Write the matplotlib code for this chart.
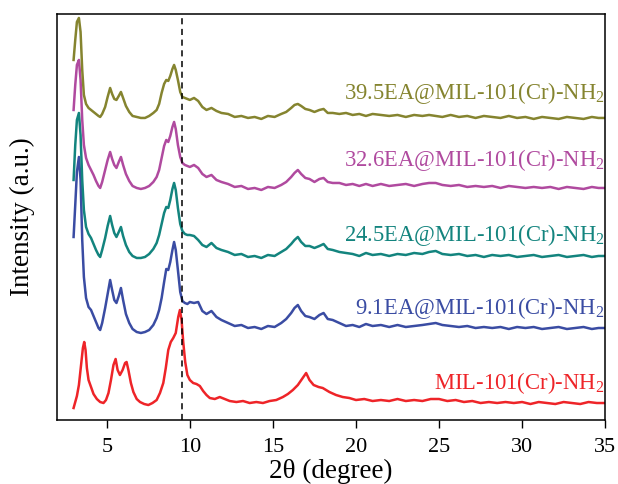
import matplotlib
matplotlib.use('Agg')
import matplotlib.pyplot as plt

plt.rcParams['font.family'] = ['Liberation Serif', 'DejaVu Serif']
plt.rcParams['mathtext.fontset'] = 'custom'
plt.rcParams['mathtext.rm'] = 'Liberation Serif'

# 2theta grid shared by the four EA samples
x_ea = [3.00, 3.10, 3.20, 3.32, 3.42, 3.52, 3.62, 3.75, 3.90, 4.05, 4.20, 4.35,
        4.50, 4.60, 4.72, 4.90, 5.05, 5.20, 5.32, 5.45, 5.58, 5.72, 5.85, 5.98,
        6.15, 6.35, 6.55, 6.80, 7.05, 7.30, 7.55, 7.80, 8.00, 8.15, 8.30, 8.45,
        8.58, 8.70, 8.82, 8.95, 9.05, 9.15, 9.28, 9.42, 9.55, 9.70, 9.85, 10.00,
        10.25, 10.5, 10.75, 11.0, 11.3, 11.6, 11.9, 12.3, 12.7, 13.1, 13.5, 13.9,
        14.3, 14.7, 15.1, 15.5, 15.8, 16.1, 16.3, 16.5, 16.7, 16.95, 17.2, 17.5,
        17.8, 18.05, 18.3, 18.6, 19.0, 19.4, 19.8, 20.2, 20.6, 21.0, 21.5, 22.0,
        22.5, 23.0, 23.5, 24.0, 24.4, 24.8, 25.2, 25.7, 26.2, 26.7, 27.2, 27.7,
        28.2, 28.7, 29.2, 29.7, 30.2, 30.7, 31.2, 31.7, 32.2, 32.7, 33.2, 33.7,
        34.2, 34.6, 35.0]

y_91 = [183, 215, 248, 263, 240, 180, 143, 122, 113, 110, 104, 98,
        92, 90, 97, 112, 126, 140, 130, 120, 117, 124, 132, 120,
        106, 97, 91, 88, 87, 88, 90, 95, 102, 110, 122, 138,
        151, 150, 158, 170, 178, 170, 150, 128, 119, 117, 116, 118,
        117, 118, 109, 106, 109, 103, 100, 97, 94, 95, 92, 93,
        91, 94, 93, 97, 101, 107, 112, 115, 109, 104, 103, 101,
        105, 107, 101, 100, 97, 94, 95, 93, 96, 94, 95, 93,
        95, 93, 94, 95, 96, 97, 95, 94, 93, 94, 92, 93,
        92, 93, 91, 93, 92, 93, 91, 92, 93, 91, 92, 93,
        91, 92, 92]

y_245 = [240, 275, 300, 307, 285, 240, 210, 193, 186, 182, 176, 170,
         165, 163, 170, 182, 194, 204, 195, 187, 183, 188, 193, 184,
         175, 168, 164, 162, 162, 163, 166, 171, 177, 185, 196, 207,
         213, 212, 220, 231, 237, 230, 212, 196, 189, 186, 185, 185,
         184, 180, 175, 173, 177, 172, 170, 168, 165, 166, 163, 164,
         162, 165, 164, 168, 171, 176, 180, 183, 178, 174, 174, 172,
         174, 176, 171, 170, 168, 167, 166, 164, 167, 165, 166, 164,
         166, 165, 167, 166, 168, 169, 166, 165, 166, 164, 165, 163,
         165, 164, 165, 163, 164, 165, 163, 164, 165, 163, 164, 165,
         163, 164, 164]

y_326 = [310, 335, 355, 360, 340, 300, 275, 262, 255, 250, 245, 239,
         234, 232, 238, 250, 260, 268, 261, 255, 252, 258, 263, 255,
         246, 239, 234, 232, 231, 232, 234, 238, 243, 250, 262, 274,
         280, 278, 284, 293, 298, 291, 275, 263, 257, 255, 254, 253,
         255, 252, 246, 243, 245, 240, 238, 236, 233, 234, 231, 232,
         230, 233, 232, 235, 238, 243, 247, 250, 246, 242, 241, 238,
         241, 242, 238, 237, 237, 235, 236, 234, 236, 234, 236, 234,
         235, 236, 234, 236, 237, 237, 235, 234, 235, 233, 234, 233,
         234, 232, 234, 233, 232, 233, 232, 233, 231, 233, 232, 231,
         233, 232, 232]

y_395 = [360, 380, 398, 402, 388, 350, 325, 316, 312, 310, 308, 306,
         304, 303, 306, 313, 323, 332, 326, 321, 320, 324, 328, 322,
         314, 308, 304, 303, 302, 302, 304, 307, 310, 316, 327, 336,
         340, 339, 344, 351, 355, 350, 340, 328, 323, 322, 321, 320,
         322, 319, 313, 310, 312, 309, 307, 306, 303, 304, 302, 303,
         301, 304, 303, 306, 308, 312, 315, 316, 314, 311, 310, 308,
         310, 311, 307, 307, 306, 307, 305, 306, 304, 306, 305, 304,
         305, 303, 305, 304, 305, 304, 303, 305, 303, 304, 302, 304,
         303, 302, 304, 302, 303, 301, 303, 302, 301, 303, 302, 301,
         303, 302, 302]

# pristine MIL-101(Cr)-NH2
x_mil = [3.00, 3.10, 3.20, 3.32, 3.45, 3.56, 3.64, 3.72, 3.80, 3.90, 4.05, 4.20,
         4.40, 4.60, 4.80, 4.95, 5.10, 5.25, 5.40, 5.53, 5.65, 5.79, 5.95, 6.10,
         6.19, 6.30, 6.45, 6.60, 6.80, 7.00, 7.25, 7.50, 7.75, 8.00, 8.20, 8.40,
         8.55, 8.70, 8.85, 9.00, 9.15, 9.30, 9.40, 9.50, 9.60, 9.72, 9.85, 10.00,
         10.20, 10.40, 10.60, 10.80, 11.00, 11.20, 11.50, 11.80, 12.10, 12.40,
         12.80, 13.20, 13.60, 14.00, 14.40, 14.80, 15.20, 15.60, 15.90, 16.20,
         16.50, 16.75, 17.00, 17.20, 17.45, 17.75, 18.00, 18.40, 18.80, 19.20,
         19.60, 20.00, 20.50, 21.00, 21.50, 22.00, 22.50, 23.00, 23.50, 24.00,
         24.50, 25.00, 25.50, 26.00, 26.50, 27.00, 27.50, 28.00, 28.50, 29.00,
         29.50, 30.00, 30.50, 31.00, 31.50, 32.00, 32.50, 33.00, 33.50, 34.00,
         34.50, 35.00]
y_mil = [12, 18, 24, 35, 55, 72, 78, 70, 52, 40, 33, 26,
         21, 18, 17, 20, 27, 40, 55, 61, 50, 45, 50, 57,
         58, 50, 37, 28, 21, 18, 16, 15, 17, 20, 27, 37,
         52, 70, 78, 82, 87, 103, 110, 100, 78, 58, 45, 40,
         37, 36, 34, 29, 25, 22, 21, 23, 21, 19,
         18, 19, 17, 18, 17, 19, 20, 23, 26, 30,
         35, 41, 47, 40, 35, 33, 32, 28, 25, 23,
         22, 20, 21, 19, 20, 19, 21, 19, 20, 19,
         21, 21, 19, 20, 18, 19, 17, 18, 17, 18,
         17, 18, 16, 18, 17, 16, 18, 17, 16, 18,
         17, 17]

labels = ['MIL-101(Cr)-NH$_2$', '9.1EA@MIL-101(Cr)-NH$_2$',
          '24.5EA@MIL-101(Cr)-NH$_2$', '32.6EA@MIL-101(Cr)-NH$_2$',
          '39.5EA@MIL-101(Cr)-NH$_2$']
colors = ['#ee2428', '#3a4ca3', '#13847e', '#b04a9f', '#85842f']
label_y = [37, 112, 185, 260, 327]

fig = plt.figure(figsize=(6.18, 4.84), dpi=100)
ax = fig.add_axes([0.0922, 0.1322, 0.887, 0.839])

series = [(x_mil, y_mil), (x_ea, y_91), (x_ea, y_245), (x_ea, y_326), (x_ea, y_395)]
for (xs, ys), c, lab, ly in zip(series, colors, labels, label_y):
    ax.plot(xs, ys, color=c, lw=1.8)
    ax.text(34.95, ly, lab, color=c, fontsize=16.3, ha='right', va='center')

ax.axvline(9.5, color='black', ls=(0, (4, 3)), lw=1.1)

ax.set_xlim(2, 35)
ax.set_ylim(0, 406)
ax.set_xticks([5, 10, 15, 20, 25, 30, 35])
ax.set_yticks([])
ax.tick_params(axis='x', direction='out', length=6, width=1, labelsize=16, pad=7)
for s in ax.spines.values():
    s.set_linewidth(1.1)
ax.set_xlabel('2θ (degree)', fontsize=19.5, labelpad=1)
ax.set_ylabel('Intensity (a.u.)', fontsize=19.5, labelpad=16)

fig.savefig('out.png', dpi=100)
